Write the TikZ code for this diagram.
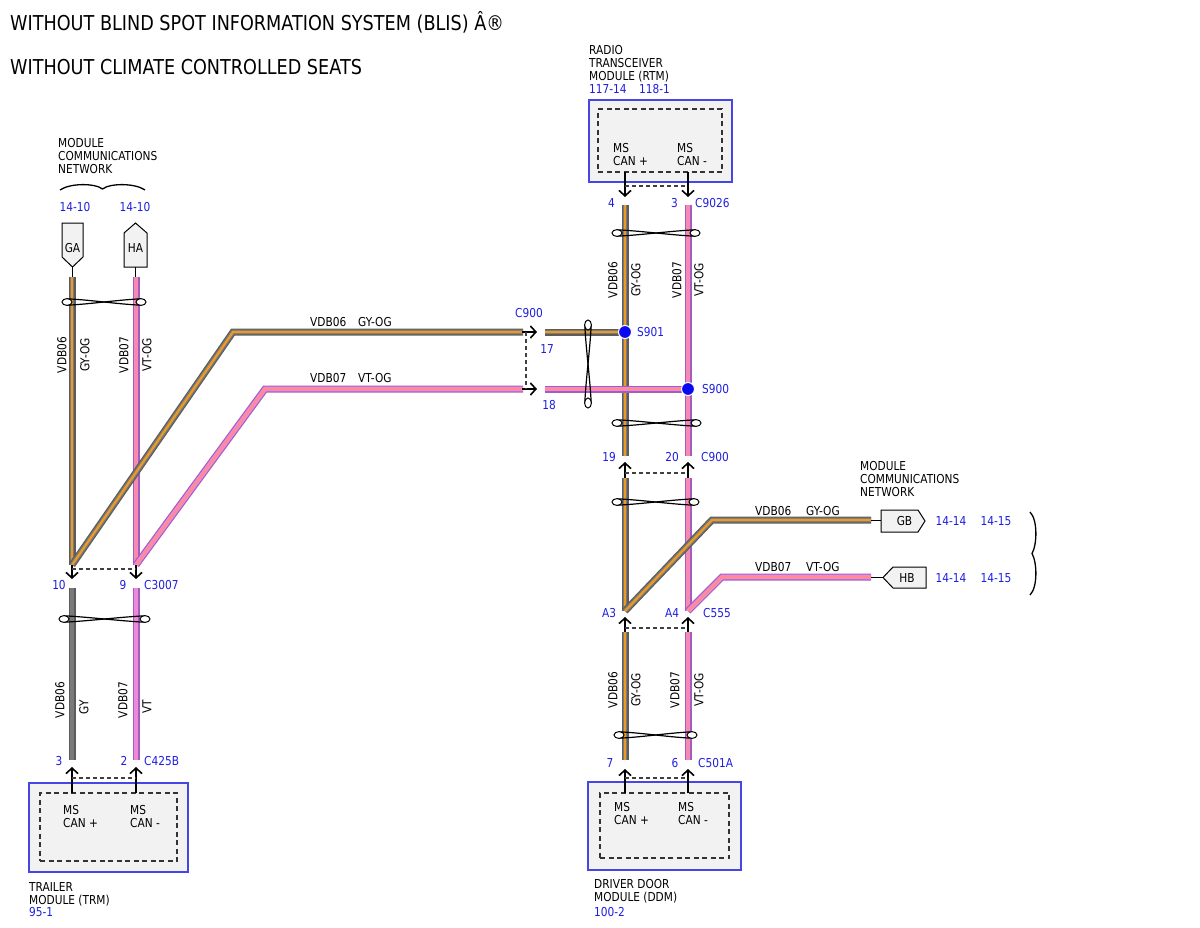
\documentclass[tikz,border=0pt]{standalone}
\usepackage{fontspec}
\setmainfont{DejaVu Sans}[FakeStretch=0.86]
\usetikzlibrary{arrows.meta,positioning}
\definecolor{gyEdge}{HTML}{5C5C5C}
\definecolor{gyBody}{HTML}{7A7A7A}
\definecolor{ogStripe}{HTML}{EE9A22}
\definecolor{vtEdge}{HTML}{A45DBE}
\definecolor{vtBody}{HTML}{EC8AD8}
\definecolor{ogPink}{HTML}{FF8A8F}
\definecolor{pinBlue}{HTML}{1E1EE0}
\definecolor{boxBlue}{HTML}{4646E6}
\definecolor{boxFill}{HTML}{F2F2F2}
\definecolor{dotBlue}{HTML}{0A0AF0}
\newcommand\lblfont{\fontsize{12.3}{13}\selectfont}
\newcommand\headfont{\fontsize{20.5}{24}\selectfont}

\begin{document}
\begin{tikzpicture}[
    x=1pt, y=-1pt,
    font=\lblfont,
    inner sep=0pt,
    gyog/.style={
        line width=7pt,
        draw=gyEdge,
        postaction={draw=gyBody, line width=4.6pt},
        postaction={draw=ogStripe, line width=2.2pt}
    },
    vtog/.style={
        line width=7pt,
        draw=vtEdge,
        postaction={draw=vtBody, line width=4.6pt},
        postaction={draw=ogPink, line width=2.2pt}
    },
    gy/.style={
        line width=7pt,
        draw=gyEdge,
        postaction={draw=gyBody, line width=4.6pt}
    },
    vt/.style={
        line width=7pt,
        draw=vtEdge,
        postaction={draw=vtBody, line width=4.6pt}
    },
    pinlead/.style={
        draw=black,
        line width=1.2pt,
        -{Straight Barb[length=5.5pt,width=12pt,line width=1.6pt]}
    },
    housing/.style={draw=black!75, line width=1.1pt, dash pattern=on 4pt off 3pt},
    module/.style={draw=boxBlue, line width=1.3pt, fill=boxFill},
    innerbox/.style={draw=black!80, line width=1.1pt, dash pattern=on 5pt off 3.5pt},
    tag/.style={draw=black, line width=1pt, fill=boxFill},
    lead/.style={draw=black, line width=1pt},
    pinnum/.style={text=pinBlue},
    wirename/.style={rotate=90},
    splice/.style={circle, fill=dotBlue, draw=white, line width=1pt, minimum size=13pt},
    twistloop/.style={draw=black, fill=white, line width=1pt},
    twistline/.style={draw=black, line width=1.2pt},
    netbrace/.style={draw=black, line width=1.3pt}
  ]
\useasboundingbox (0,0) rectangle (1200,927);

% // headings
\node [anchor=west, font=\headfont] (head1) at (10,22.5) {WITHOUT BLIND SPOT INFORMATION SYSTEM (BLIS) Â®};
\node [anchor=west, font=\headfont] (head2) at (10,67.5) {WITHOUT CLIMATE CONTROLLED SEATS};

% // modules
\node [module, minimum width=143pt, minimum height=82pt] (rtm) at (660.5,141) {};
\node [innerbox, minimum width=124pt, minimum height=63pt] (rtmin) at (660,140.5) {};
\node [module, minimum width=159pt, minimum height=89pt] (trm) at (108.5,827.5) {};
\node [innerbox, minimum width=137pt, minimum height=68pt] (trmin) at (108.5,827) {};
\node [module, minimum width=153pt, minimum height=88pt] (ddm) at (664.5,826) {};
\node [innerbox, minimum width=129pt, minimum height=65pt] (ddmin) at (664.5,825.5) {};

\node [anchor=north west, align=left] (rtmname) at (589,45.6) {RADIO\\TRANSCEIVER\\MODULE (RTM)};
\node [anchor=west, pinnum] (rtmpage1) at (589,89) {117-14};
\node [anchor=west, pinnum] (rtmpage2) at (639,89) {118-1};
\node [anchor=north west, align=left] (rtmcanp) at (613,143.6) {MS\\CAN +};
\node [anchor=north west, align=left] (rtmcanm) at (677,143.6) {MS\\CAN -};

\node [anchor=north west, align=left] (trmname) at (29,882.6) {TRAILER\\MODULE (TRM)};
\node [anchor=west, pinnum] (trmpage) at (29,912) {95-1};
\node [anchor=north west, align=left] (trmcanp) at (63,805.6) {MS\\CAN +};
\node [anchor=north west, align=left] (trmcanm) at (130,805.6) {MS\\CAN -};

\node [anchor=north west, align=left] (ddmname) at (594,879.6) {DRIVER DOOR\\MODULE (DDM)};
\node [anchor=west, pinnum] (ddmpage) at (594,912) {100-2};
\node [anchor=north west, align=left] (ddmcanp) at (614,802.6) {MS\\CAN +};
\node [anchor=north west, align=left] (ddmcanm) at (678,802.6) {MS\\CAN -};

% // network tags left
\node [anchor=north west, align=left] (netleft) at (58,138.6) {MODULE\\COMMUNICATIONS\\NETWORK};
\draw [netbrace] (60,190) .. controls (70,183) and (95,183) .. (102.5,189)
                 .. controls (110,183) and (135,183) .. (145,190);
\node [pinnum] (gapage) at (75,207) {14-10};
\node [pinnum] (hapage) at (135,207) {14-10};
\draw [tag] (62,223) -- (83,223) -- (83,257) -- (72.5,267) -- (62,257) -- cycle;
\node (ga) at (72.5,248) {GA};
\draw [tag] (124,267) -- (124,233) -- (135.5,223) -- (147,233) -- (147,267) -- cycle;
\node (ha) at (135.5,248) {HA};
\draw [lead] (72.5,267) -- (72.5,277);
\draw [lead] (135.5,267) -- (135.5,277);

% // network tags right
\node [anchor=north west, align=left] (netright) at (860,461.6) {MODULE\\COMMUNICATIONS\\NETWORK};
\draw [tag] (881,510) -- (918,510) -- (925,521) -- (918,532) -- (881,532) -- cycle;
\node (gb) at (904.5,521.5) {GB};
\draw [tag] (883,577.5) -- (893,567) -- (926,567) -- (926,588) -- (893,588) -- cycle;
\node (hb) at (907,578) {HB};
\node [pinnum] (gbpage1) at (951,521) {14-14};
\node [pinnum] (gbpage2) at (996,521) {14-15};
\node [pinnum] (hbpage1) at (951,578) {14-14};
\node [pinnum] (hbpage2) at (996,578) {14-15};
\draw [netbrace] (1030,512) .. controls (1038,520) and (1037,545) .. (1032,553.5)
                 .. controls (1037,562) and (1038,587) .. (1030,595);

% // wires C3007 side
\draw [vtog] (136,277) -- (136,565);
\draw [gyog] (72,277) -- (72,565);
\draw [gyog] (72,565) -- (233,332) -- (523,332);
\draw [vtog] (136,565) -- (265,389) -- (523,389);
\node [wirename] (w1a) at (62,355) {VDB06};
\node [wirename] (w1b) at (85,355) {GY-OG};
\node [wirename] (w2a) at (124,355) {VDB07};
\node [wirename] (w2b) at (147,355) {VT-OG};
\node [anchor=west] (w3a) at (310,322) {VDB06};
\node [anchor=west] (w3b) at (358,322) {GY-OG};
\node [anchor=west] (w4a) at (310,378) {VDB07};
\node [anchor=west] (w4b) at (358,378) {VT-OG};

% C3007
\draw [pinlead] (72,565) -- (72,579);
\draw [pinlead] (136,565) -- (136,579);
\draw [housing] (72,569) -- (136,569);
\node [pinnum] (p10) at (59,585) {10};
\node [pinnum] (p9) at (123,585) {9};
\node [pinnum, anchor=west] (c3007) at (144,585) {C3007};

\draw [gy] (72,588) -- (72,760);
\draw [vt] (136,588) -- (136,760);
\node [wirename] (w5a) at (60,700) {VDB06};
\node [wirename] (w5b) at (84,707) {GY};
\node [wirename] (w6a) at (123,700) {VDB07};
\node [wirename] (w6b) at (147,707) {VT};

% C425B
\draw [pinlead] (72,793) -- (72,767);
\draw [pinlead] (136,793) -- (136,767);
\draw [housing] (72,778) -- (136,778);
\node [pinnum] (p3a) at (59,761) {3};
\node [pinnum] (p2) at (124,761) {2};
\node [pinnum, anchor=west] (c425b) at (144,761) {C425B};

% // RTM side
\draw [pinlead] (625,172) -- (625,197);
\draw [pinlead] (688,172) -- (688,197);
\draw [housing] (625,186) -- (688,186);
\node [pinnum] (p4) at (611.5,203) {4};
\node [pinnum] (p3b) at (674.5,203) {3};
\node [pinnum, anchor=west] (c9026) at (695,203) {C9026};

\draw [gyog] (625,205) -- (625,456);
\draw [vtog] (688,205) -- (688,456);
\draw [gyog] (545,332) -- (625,332);
\draw [vtog] (545,389) -- (688,389);
\node [wirename] (w7a) at (613,280) {VDB06};
\node [wirename] (w7b) at (636,280) {GY-OG};
\node [wirename] (w8a) at (677,280) {VDB07};
\node [wirename] (w8b) at (699,280) {VT-OG};

% C900 (17/18)
\draw [pinlead] (522,332) -- (537,332);
\draw [pinlead] (522,389) -- (537,389);
\draw [housing] (526,332) -- (526,389);
\node [pinnum] (c900a) at (529,313) {C900};
\node [pinnum] (p17) at (547,349) {17};
\node [pinnum] (p18) at (549,405) {18};

% splices
\node [splice] (s901) at (625,332) {};
\node [splice] (s900) at (688,389) {};
\node [pinnum, anchor=west] (s901name) at (637,332) {S901};
\node [pinnum, anchor=west] (s900name) at (702,389) {S900};

% C900 (19/20)
\draw [pinlead] (625,478) -- (625,462);
\draw [pinlead] (688,478) -- (688,462);
\draw [housing] (625,473) -- (688,473);
\node [pinnum] (p19) at (609,457) {19};
\node [pinnum] (p20) at (672,457) {20};
\node [pinnum, anchor=west] (c900b) at (701,457) {C900};

\draw [gyog] (625,478) -- (625,611);
\draw [vtog] (688,478) -- (688,611);
\draw [vtog] (688,611) -- (722,577) -- (871,577);
\draw [gyog] (625,611) -- (712,520) -- (871,520);
\draw [lead] (871,520) -- (881,520);
\draw [lead] (871,577) -- (883,577);
\node [anchor=west] (w9a) at (755,511) {VDB06};
\node [anchor=west] (w9b) at (806,511) {GY-OG};
\node [anchor=west] (w10a) at (755,567) {VDB07};
\node [anchor=west] (w10b) at (806,567) {VT-OG};

% C555
\draw [pinlead] (625,632) -- (625,617);
\draw [pinlead] (688,632) -- (688,617);
\draw [housing] (625,628) -- (688,628);
\node [pinnum] (pa3) at (609,613) {A3};
\node [pinnum] (pa4) at (672,613) {A4};
\node [pinnum, anchor=west] (c555) at (703,613) {C555};

\draw [gyog] (625,632) -- (625,760);
\draw [vtog] (688,632) -- (688,760);
\node [wirename] (w11a) at (613,690) {VDB06};
\node [wirename] (w11b) at (636,690) {GY-OG};
\node [wirename] (w12a) at (675,690) {VDB07};
\node [wirename] (w12b) at (699,690) {VT-OG};

% C501A
\draw [pinlead] (625,793) -- (625,769);
\draw [pinlead] (688,793) -- (688,769);
\draw [housing] (625,778) -- (688,778);
\node [pinnum] (p7) at (610,763) {7};
\node [pinnum] (p6) at (675,763) {6};
\node [pinnum, anchor=west] (c501a) at (698,763) {C501A};

% // twisted pairs
\foreach \xa/\xb/\yy in {67/141/302, 64/145/619, 617/695/233, 617/696/423, 617/694/502, 619/692/735}{
  \draw [twistline] (\xa,\yy-3.2) .. controls (\xa+25,\yy-2) and (\xb-25,\yy+2) .. (\xb,\yy+3.2);
  \draw [twistline] (\xa,\yy+3.2) .. controls (\xa+25,\yy+2) and (\xb-25,\yy-2) .. (\xb,\yy-3.2);
  \draw [twistloop] (\xa,\yy) ellipse [x radius=5pt, y radius=3.4pt];
  \draw [twistloop] (\xb,\yy) ellipse [x radius=5pt, y radius=3.4pt];
}
\draw [twistline] (584.8,325) .. controls (586,350) and (590,378) .. (591.2,403);
\draw [twistline] (591.2,325) .. controls (590,350) and (586,378) .. (584.8,403);
\draw [twistloop] (588,325) ellipse [x radius=3.4pt, y radius=5pt];
\draw [twistloop] (588,403) ellipse [x radius=3.4pt, y radius=5pt];

\end{tikzpicture}
\end{document}
